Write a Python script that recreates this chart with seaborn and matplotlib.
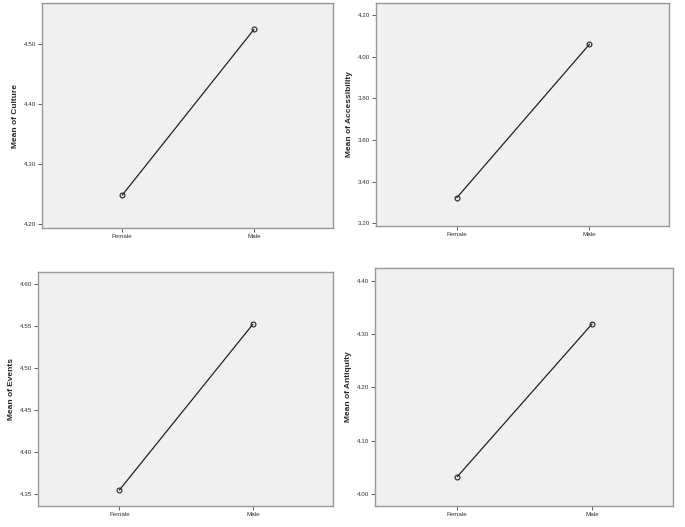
import matplotlib
matplotlib.use("Agg")
import matplotlib.pyplot as plt
import seaborn as sns
import pandas as pd

genders = ["Female", "Male"]
culture = [4.248, 4.524]
accessibility = [3.323, 4.060]
events = [4.355, 4.552]
antiquity = [4.032, 4.319]

panels = [
    ("Mean of Culture", culture, [4.20, 4.30, 4.40, 4.50], (4.193, 4.568), (42, 333, 3, 228)),
    ("Mean of Accessibility", accessibility, [3.20, 3.40, 3.60, 3.80, 4.00, 4.20], (3.187, 4.258), (376, 669, 3, 226)),
    ("Mean of Events", events, [4.35, 4.40, 4.45, 4.50, 4.55, 4.60], (4.336, 4.614), (38, 333, 272, 506)),
    ("Mean of Antiquity", antiquity, [4.00, 4.10, 4.20, 4.30, 4.40], (3.977, 4.424), (375, 673, 268, 506)),
]

sns.set_style("white")
plt.rcParams['font.family'] = ['Liberation Sans', 'DejaVu Sans']

W, H = 685, 527
fig = plt.figure(figsize=(W / 100, H / 100), dpi=100)

for label, vals, yticks, ylim, (l, r, t, b) in panels:
    ax = fig.add_axes([l / W, 1 - b / H, (r - l) / W, (b - t) / H])
    df = pd.DataFrame({"Gender": genders, "Value": vals})
    sns.lineplot(data=df, x="Gender", y="Value", ax=ax, color="#222222", lw=0.9,
                 marker="o", markersize=3.5, markerfacecolor="none",
                 markeredgecolor="#222222", markeredgewidth=0.8)
    ax.set_facecolor("#F0F0F0")
    ax.set_xlim(-0.61, 1.6)
    ax.set_ylim(*ylim)
    ax.set_yticks(yticks)
    ax.set_yticklabels([f"{v:.2f}" for v in yticks])
    ax.set_xticks([0, 1])
    ax.set_xticklabels(genders)
    ax.set_xlabel("")
    ax.set_ylabel(label, fontsize=6, fontweight="bold", labelpad=3.5)
    ax.tick_params(axis="both", labelsize=4.5, length=3, width=0.6,
                   color="#444444", labelcolor="#333333", pad=1, direction="out")
    ax.tick_params(left=True, bottom=True)
    for s in ax.spines.values():
        s.set_color("#999999")
        s.set_linewidth(1.0)
    ax.grid(False)

fig.savefig("out.png", dpi=100, facecolor="white")
